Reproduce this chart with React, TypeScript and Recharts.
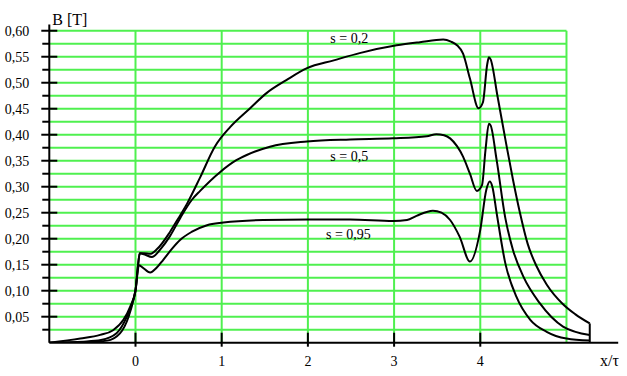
import React from 'react';
import { LineChart, Line, XAxis, YAxis, ReferenceLine, ReferenceDot } from 'recharts';

// s = 0,2 curve
const s02X = [-1, -0.64, -0.41, -0.26, -0.14, -0.06, 0.0, 0.03, 0.05, 0.1, 0.17, 0.25, 0.4, 0.5, 0.6, 0.75, 0.92, 1.1, 1.33, 1.52, 1.75, 1.99, 2.3, 2.6, 3.03, 3.3, 3.57, 3.66, 3.73, 3.8, 3.88, 3.98, 4.03, 4.08, 4.1, 4.12, 4.2, 4.3, 4.38, 4.46, 4.55, 4.65, 4.77, 4.96, 5.1, 5.27];
const s02Y = [0, 0.008, 0.015, 0.024, 0.044, 0.07, 0.101, 0.15, 0.172, 0.172, 0.171, 0.18, 0.213, 0.24, 0.268, 0.318, 0.377, 0.415, 0.451, 0.48, 0.505, 0.528, 0.543, 0.557, 0.572, 0.578, 0.583, 0.579, 0.572, 0.556, 0.508, 0.451, 0.462, 0.535, 0.549, 0.545, 0.474, 0.383, 0.313, 0.25, 0.19, 0.148, 0.112, 0.074, 0.055, 0.037];

// s = 0,5 curve
const s05X = [-1, -0.6, -0.4, -0.22, -0.1, -0.03, 0.0, 0.03, 0.05, 0.1, 0.19, 0.3, 0.4, 0.52, 0.65, 0.75, 0.98, 1.17, 1.29, 1.56, 1.99, 2.49, 2.99, 3.38, 3.49, 3.58, 3.65, 3.73, 3.8, 3.88, 3.96, 4.02, 4.06, 4.1, 4.12, 4.19, 4.29, 4.38, 4.5, 4.69, 4.96, 5.27];
const s05Y = [0, 0.002, 0.005, 0.018, 0.05, 0.08, 0.1, 0.15, 0.172, 0.17, 0.165, 0.182, 0.205, 0.24, 0.274, 0.292, 0.328, 0.351, 0.361, 0.377, 0.387, 0.391, 0.393, 0.397, 0.401, 0.399, 0.393, 0.378, 0.358, 0.325, 0.292, 0.303, 0.37, 0.421, 0.418, 0.351, 0.24, 0.178, 0.127, 0.076, 0.031, 0.015];

// s = 0,95 curve
const s095X = [-1, -0.6, -0.33, -0.18, -0.08, -0.02, 0.0, 0.04, 0.08, 0.17, 0.25, 0.32, 0.42, 0.52, 0.65, 0.83, 1.02, 1.48, 2.0, 2.49, 2.99, 3.15, 3.26, 3.45, 3.55, 3.65, 3.76, 3.88, 4.0, 4.07, 4.11, 4.14, 4.19, 4.29, 4.42, 4.58, 4.77, 5.0, 5.27];
const s095Y = [0, 0.001, 0.004, 0.018, 0.05, 0.085, 0.1, 0.149, 0.145, 0.135, 0.145, 0.159, 0.18, 0.198, 0.213, 0.226, 0.231, 0.236, 0.237, 0.237, 0.234, 0.236, 0.244, 0.254, 0.25, 0.236, 0.204, 0.156, 0.217, 0.294, 0.31, 0.3, 0.249, 0.153, 0.088, 0.044, 0.021, 0.008, 0.004];

const yTicks = [0.025, 0.05, 0.075, 0.1, 0.125, 0.15, 0.175, 0.2, 0.225, 0.25, 0.275, 0.3, 0.325, 0.35, 0.375, 0.4, 0.425, 0.45, 0.475, 0.5, 0.525, 0.55, 0.575, 0.6];
const xTicks = [0, 1, 2, 3, 4];
const xGrid = [0, 1, 2, 3, 4, 5];
const curveLabels = [
  { x: 2.26, y: 0.576, text: 's = 0,2' },
  { x: 2.26, y: 0.35, text: 's = 0,5' },
  { x: 2.21, y: 0.2, text: 's = 0,95' },
];

const toData = (xs: number[], ys: number[]) => xs.map((x, i) => ({ x, y: ys[i] }));
const d02 = toData(s02X, s02Y);
const d05 = toData(s05X, s05Y);
const d095 = toData(s095X, s095Y);

const FONT = 'Liberation Serif';
const GREEN = '#4ff04f';

const YTick = (props: any) => {
  const { x, y, payload } = props;
  const v = payload.value as number;
  const major = Math.round(v * 1000) % 50 === 0;
  return (
    <g>
      <line x1={major ? x - 8 : x - 7} x2={major ? x + 8 : x} y1={y} y2={y} stroke="#000" strokeWidth={2} />
      {major && (
        <text x={x - 20} y={y + 5} textAnchor="end" style={{ fontFamily: FONT }} fontSize={14} fill="#000">
          {v.toFixed(2).replace('.', ',')}
        </text>
      )}
    </g>
  );
};

const XTick = (props: any) => {
  const { x, y, payload } = props;
  return (
    <g>
      <line x1={x} x2={x} y1={y - 10} y2={y + 4} stroke="#000" strokeWidth={2} />
      <text x={x} y={y + 23} textAnchor="middle" style={{ fontFamily: FONT }} fontSize={14} fill="#000">
        {payload.value}
      </text>
    </g>
  );
};

const textLabel = (text: string, dx: number, dy: number, size: number) => (props: any) => {
  const vb = props.viewBox || {};
  return (
    <text x={(vb.x ?? 0) + dx} y={(vb.y ?? 0) + dy} style={{ fontFamily: FONT }} fontSize={size} fill="#000">
      {text}
    </text>
  );
};

export default function App() {
  return (
    <div style={{ position: 'absolute', left: 0, top: 0, background: '#fff', fontFamily: FONT }}>
      <LineChart width={627} height={376} margin={{ top: 24.5, right: 8.8, bottom: 0, left: 0 }}>
        <XAxis
          type="number"
          dataKey="x"
          domain={[-1, 5.6]}
          ticks={xTicks}
          tick={<XTick />}
          tickSize={0}
          tickMargin={0}
          tickLine={false}
          axisLine={{ stroke: '#000', strokeWidth: 2 }}
          height={33.3}
          allowDataOverflow
        />
        <YAxis
          type="number"
          domain={[0, 0.612]}
          ticks={yTicks}
          tick={<YTick />}
          tickSize={0}
          tickMargin={0}
          tickLine={false}
          axisLine={{ stroke: '#000', strokeWidth: 2 }}
          width={49.3}
          interval={0}
          allowDataOverflow
        />
        {yTicks.map((v) => (
          <ReferenceLine key={'h' + v} segment={[{ x: -1, y: v }, { x: 5, y: v }]} stroke={GREEN} strokeWidth={2} />
        ))}
        {xGrid.map((v) => (
          <ReferenceLine key={'v' + v} segment={[{ x: v, y: 0 }, { x: v, y: 0.6 }]} stroke={GREEN} strokeWidth={2} />
        ))}
        <ReferenceLine segment={[{ x: 5.27, y: 0 }, { x: 5.27, y: 0.037 }]} stroke="#000" strokeWidth={2} />
        <Line data={d02} dataKey="y" type="monotone" stroke="#000" strokeWidth={2} dot={false} isAnimationActive={false} />
        <Line data={d05} dataKey="y" type="monotone" stroke="#000" strokeWidth={2} dot={false} isAnimationActive={false} />
        <Line data={d095} dataKey="y" type="monotone" stroke="#000" strokeWidth={2} dot={false} isAnimationActive={false} />
        {curveLabels.map((l) => (
          <ReferenceDot key={l.text} x={l.x} y={l.y} r={0} fill="none" stroke="none" label={textLabel(l.text, 0, 0, 14)} />
        ))}
        <ReferenceDot x={-1} y={0.6} r={0} fill="none" stroke="none" label={textLabel('B [T]', 3, -6, 16)} />
        <ReferenceDot x={5.39} y={0} r={0} fill="none" stroke="none" label={textLabel('x/τ', 0, 23, 16)} />
      </LineChart>
    </div>
  );
}
